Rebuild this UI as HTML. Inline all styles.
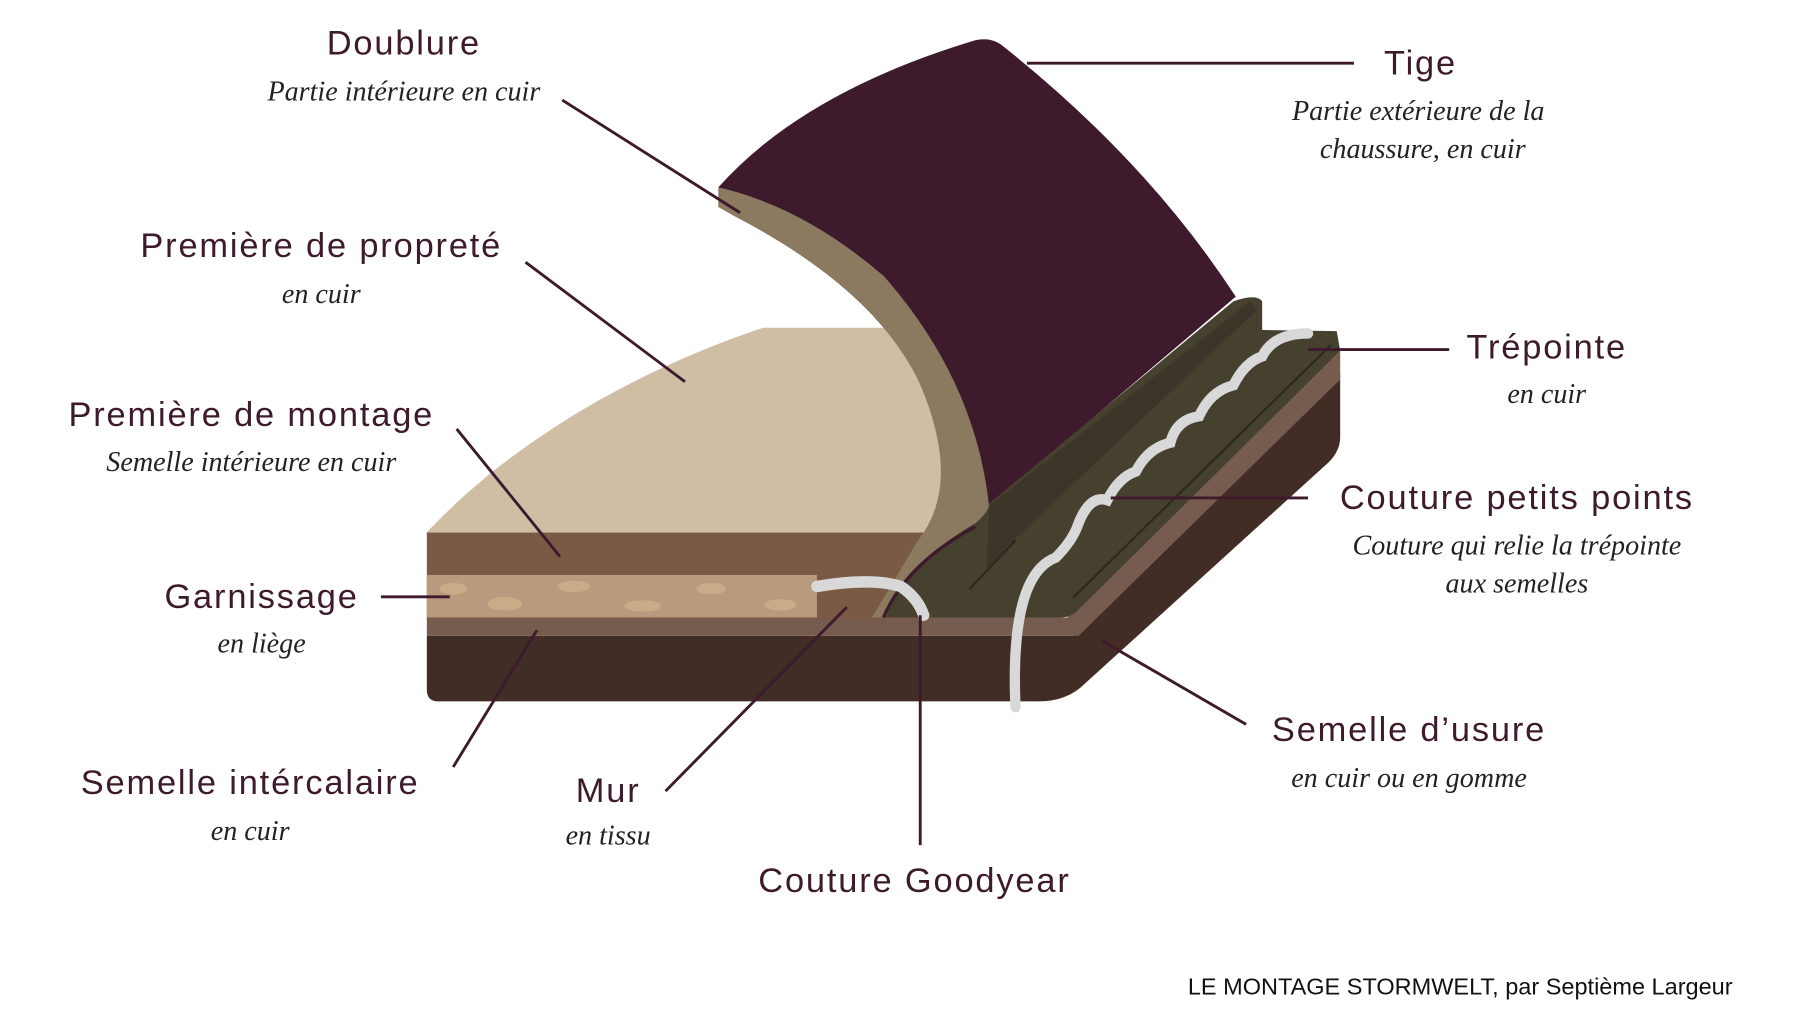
<!DOCTYPE html>
<html><head><meta charset="utf-8"><style>
html,body{margin:0;padding:0;background:#fff;width:1798px;height:1028px;overflow:hidden}
svg{display:block}
.t{font-family:"Liberation Sans",sans-serif;font-size:30px;letter-spacing:1.6px;fill:#3d1a2c;text-anchor:middle;dominant-baseline:central}
.s{font-family:"Liberation Serif",serif;font-style:italic;font-size:24.5px;fill:#222;text-anchor:middle;dominant-baseline:central}
.l{stroke:#3d1a2c;stroke-width:2.5;fill:none}
</style></head><body>
<svg width="1798" height="1028" viewBox="0 0 1567 894" preserveAspectRatio="none">
<!-- sole -->
<path d="M372,553 L935,553 L1168,325 L1168,380 Q1168,392 1158,402 L945,595 Q930,610 905,610 L382,610 Q372,610 372,600 Z" fill="#412c26"/>
<path d="M372,537 L930,537 L1168,305 L1168,330 L940,553 L372,553 Z" fill="#765c4f"/>
<rect x="372" y="463" width="440" height="75" fill="#7a5a45"/>
<rect x="372" y="500" width="340" height="37" fill="#b89a7c"/>
<g fill="#c9ab88"><ellipse cx="395" cy="512" rx="12" ry="5"/><ellipse cx="440" cy="525" rx="15" ry="6"/><ellipse cx="500" cy="510" rx="14" ry="5"/><ellipse cx="560" cy="527" rx="16" ry="5"/><ellipse cx="620" cy="512" rx="13" ry="5"/><ellipse cx="680" cy="526" rx="14" ry="5"/></g>
<!-- insole -->
<path d="M372,463 C450,380 560,320 665,285 L800,285 L850,463 Z" fill="#cfbda4"/>
<!-- lining -->
<path d="M626,163 L626,180 L640,188 Q760,250 800,330 Q840,420 800,470 L760,537 L790,537 Q810,495 845,468 Q866,448 862,430 Q850,330 770,240 Q700,180 626,163 Z" fill="#8b7a5f"/>
<!-- tige -->
<path d="M626,163 Q700,80 850,35 Q864,32 874,40 Q1000,140 1077,258 L862,440 Q850,330 770,240 Q700,180 626,163 Z" fill="#3d1a2c"/>
<!-- welt -->
<path d="M772,537 Q790,490 850,455 Q862,445 862,438 L1075,262 Q1095,255 1100,262 L1100,287 L1165,288 L1168,305 L940,530 Q934,537 924,537 Z" fill="#46402f"/>
<path d="M862,440 L1090,262 L1095,270 L875,478 Q870,490 860,495 Z" fill="#3d3529"/>
<path d="M845,512 L885,470 M935,520 L1160,300" stroke="#2e2920" stroke-width="2" fill="none"/>
<path d="M770,537 Q790,490 850,458" stroke="#3d1a2c" stroke-width="3" fill="none"/>
<!-- stitches -->
<path d="M885,615 Q880,500 920,485 Q935,470 940,455 Q950,430 965,435 Q975,415 990,410 Q1000,390 1020,385 Q1025,365 1045,362 Q1055,340 1075,335 Q1085,315 1100,310 Q1110,290 1140,290" stroke="#d8d8d8" stroke-width="9" fill="none" stroke-linecap="round"/>
<path d="M712,510 Q760,502 785,510 Q800,520 805,535" stroke="#d8d8d8" stroke-width="10" fill="none" stroke-linecap="round"/>
<!-- leader lines -->
<path class="l" d="M490,87L645,185M895,55L1180,55M458,228L597,332M398,373L488,484M332,519L392,519M395,667L468,548M580,688L738,528M802,535L802,735M1140,304L1263,304M968,433L1140,433M960,557L1086,630"/>
<!-- labels -->
<text class="t" x="352" y="38">Doublure</text><text class="s" x="352" y="80">Partie intérieure en cuir</text>
<text class="t" x="1238" y="55">Tige</text><text class="s" x="1236" y="97">Partie extérieure de la</text><text class="s" x="1240" y="130">chaussure, en cuir</text>
<text class="t" x="280" y="214">Première de propreté</text><text class="s" x="280" y="256">en cuir</text>
<text class="t" x="219" y="361">Première de montage</text><text class="s" x="219" y="402">Semelle intérieure en cuir</text>
<text class="t" x="228" y="519">Garnissage</text><text class="s" x="228" y="560">en liège</text>
<text class="t" x="218" y="681">Semelle intércalaire</text><text class="s" x="218" y="723">en cuir</text>
<text class="t" x="530" y="688">Mur</text><text class="s" x="530" y="727">en tissu</text>
<text class="t" x="797" y="766">Couture Goodyear</text>
<text class="t" x="1348" y="302">Trépointe</text><text class="s" x="1348" y="343">en cuir</text>
<text class="t" x="1322" y="433">Couture petits points</text><text class="s" x="1322" y="475">Couture qui relie la trépointe</text><text class="s" x="1322" y="508">aux semelles</text>
<text class="t" x="1228" y="635">Semelle d’usure</text><text class="s" x="1228" y="677">en cuir ou en gomme</text>
<text x="1510" y="858" font-family="Liberation Sans,sans-serif" font-size="20.5" fill="#111" text-anchor="end" dominant-baseline="central">LE MONTAGE STORMWELT, par Septième Largeur</text>
</svg>
</body></html>
